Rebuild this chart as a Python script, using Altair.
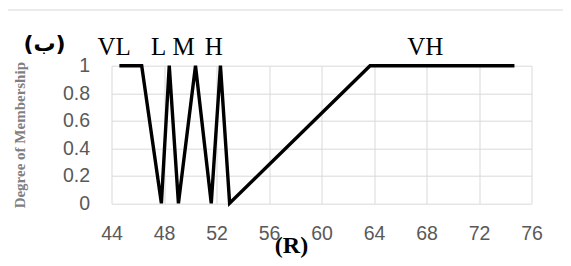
import altair as alt
import pandas as pd

# Membership function outline (R vs degree)
r_vals = [44.6, 46.3, 47.8, 48.4, 49.1, 50.4, 51.6, 52.3, 53.0, 63.7, 74.7]
mu_vals = [1, 1, 0, 1, 0, 1, 0, 1, 0, 1, 1]

# Set labels
lab_text = ["VL", "L", "M", "H", "VH"]
lab_x = [44.2, 47.6, 49.5, 51.8, 67.9]
lab_y = [1.078, 1.078, 1.078, 1.078, 1.078]

panel_text = ["(ب)"]
panel_x = [38.9]
panel_y = [1.11]

x_ticks = [44, 48, 52, 56, 60, 64, 68, 72, 76]
y_ticks = [0, 0.2, 0.4, 0.6, 0.8, 1]

line_df = pd.DataFrame({"R": r_vals, "mu": mu_vals})
lab_df = pd.DataFrame({"t": lab_text, "x": lab_x, "y": lab_y})
panel_df = pd.DataFrame({"t": panel_text, "x": panel_x, "y": panel_y})

W, H = 420, 137.6

xs = alt.Scale(domain=[44, 76], nice=False, zero=False)
ys = alt.Scale(domain=[0, 1], nice=False)

x_axis = alt.Axis(values=x_ticks, title="(R)", grid=True, domain=False, ticks=False,
                  labelOverlap=False, labelFlush=False,
                  labelPadding=21, labelFont="Liberation Sans", labelFontSize=19.5,
                  labelColor="#595959", gridColor="#d9d9d9",
                  titleFont="Liberation Serif", titleFontSize=24, titleFontWeight="bold",
                  titleColor="black", titleX=179.5, titleY=49,
                  titleBaseline="alphabetic", titleAlign="center")
y_axis = alt.Axis(values=y_ticks, title="Degree of Membership", grid=True, domain=False,
                  ticks=False, format=".1~f", labelPadding=22, labelOverlap=False,
                  labelFlush=False,
                  labelFont="Liberation Sans", labelFontSize=19.5, labelColor="#595959",
                  gridColor="#d9d9d9",
                  titleFont="Liberation Serif", titleFontSize=15, titleFontWeight="bold",
                  titleColor="#7f7f7f", titleX=-92, titleY=69,
                  titleAlign="center", titleBaseline="middle")

border = alt.Chart(pd.DataFrame({"a": [0]})).mark_rect(
    fill=None, stroke="#d9d9d9", strokeWidth=1
).encode(
    x=alt.value(-104.5), x2=alt.value(470), y=alt.value(-55.7), y2=alt.value(300)
)

line = alt.Chart(line_df).mark_line(color="black", strokeWidth=3.4).encode(
    x=alt.X("R:Q", scale=xs, axis=x_axis),
    y=alt.Y("mu:Q", scale=ys, axis=y_axis),
)

labels = alt.Chart(lab_df).mark_text(
    font="Liberation Serif", fontSize=25, color="black", baseline="alphabetic", align="center"
).encode(
    x=alt.X("x:Q", scale=xs, axis=x_axis), y=alt.Y("y:Q", scale=ys, axis=y_axis), text="t:N"
)

panel = alt.Chart(panel_df).mark_text(
    font="DejaVu Sans", fontSize=22, fontWeight="bold", color="black",
    baseline="alphabetic", align="center"
).encode(
    x=alt.X("x:Q", scale=xs, axis=x_axis), y=alt.Y("y:Q", scale=ys, axis=y_axis), text="t:N"
)

chart = alt.layer(border, line, labels, panel).properties(
    width=W, height=H,
    autosize=alt.AutoSizeParams(type="none"),
    padding={"left": 103.5, "top": 57.7, "right": 31.5, "bottom": 54.7},
).configure_view(stroke=None)

chart.save("out.html", embed_options={"renderer": "svg", "actions": False})
